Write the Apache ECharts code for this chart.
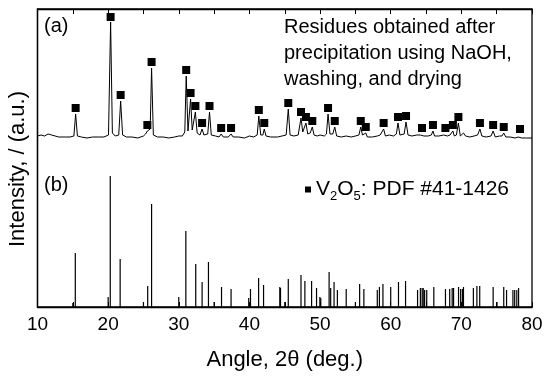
<!DOCTYPE html>
<html>
<head>
<meta charset="utf-8">
<script src="https://cdn.jsdelivr.net/npm/echarts@6/dist/echarts.min.js"></script>
<style>html,body{margin:0;padding:0;background:#fff}#c{width:550px;height:385px}</style>
</head>
<body>
<div id="c"></div>
<script>
// ---- data ----
var xTicks = [10, 20, 30, 40, 50, 60, 70, 80];
// (a) measured pattern, [2theta, intensity] (arbitrary units, offset above panel b)
var tracePoints = [
 [10.0,171],[10.5,172],[11.0,171],[11.5,173],[12.0,172],[12.5,171],[13.0,170],[13.5,170],[14.0,170],[14.6,170],
 [15.15,171],[15.4,193],[15.65,171],[16.2,170],[17.0,169],[17.8,170],[18.6,170],[19.4,170],[20.05,172],[20.35,285],
 [20.6,174],[21.0,171],[21.5,172],[21.77,206],[22.05,172],[22.6,170],[23.4,170],[24.2,169],[25.0,171],[25.3,173],
 [25.55,176],[25.8,175],[25.95,178],[26.15,239],[26.4,172],[27.0,170],[27.8,170],[28.6,169],[29.4,170],[30.0,171],
 [30.5,171],[30.85,175],[31.05,231],[31.3,176],[31.5,178],[31.67,208],[31.9,177],[32.15,177],[32.35,195],[32.6,174],
 [33.0,172],[33.3,178],[33.55,172],[34.1,173],[34.35,195],[34.6,172],[35.2,171],[35.7,170],[36.0,173],[36.3,170],
 [37.0,170],[37.4,173],[37.7,170],[38.5,170],[39.3,169],[40.0,171],[40.6,170],[41.1,172],[41.33,191],[41.6,172],
 [41.9,172],[42.1,178],[42.35,171],[43.0,170],[44.0,170],[44.6,171],[45.2,172],[45.5,198],[45.75,172],[46.3,171],
 [46.9,172],[47.1,174],[47.3,189],[47.55,175],[47.8,176],[48.0,184],[48.25,173],[48.6,174],[48.9,180],[49.15,172],
 [49.6,171],[50.0,172],[50.6,171],[50.9,173],[51.13,193],[51.4,173],[51.8,173],[52.08,180],[52.35,171],[53.0,170],
 [53.7,171],[54.4,170],[55.0,171],[55.5,172],[55.76,180],[56.0,172],[56.25,172],[56.47,174],[56.7,170],[57.4,170],
 [58.1,171],[58.5,172],[58.75,172],[59.0,178],[59.25,171],[59.8,172],[60.4,171],[60.8,173],[61.03,184],[61.3,172],
 [61.9,173],[62.17,185],[62.45,172],[63.0,171],[63.7,172],[64.2,172],[64.43,174],[64.7,171],[65.3,171],[65.75,172],
 [65.98,176],[66.2,171],[66.8,171],[67.5,172],[67.74,174],[68.0,171],[68.4,172],[68.8,176],[69.0,171],[69.3,172],
 [69.58,184],[69.85,171],[70.1,172],[70.3,174],[70.6,171],[71.2,170],[71.8,171],[72.3,172],[72.63,178],[72.9,171],
 [73.5,170],[74.2,171],[74.5,176],[74.8,170],[75.4,171],[75.75,171],[76.0,174],[76.3,170],[76.9,170],[77.6,169],
 [78.05,170],[78.3,172],[78.55,169],[79.2,169],[80.0,169]
];
// V2O5 peak markers on pattern (a)
var markerX = [15.4,20.35,21.77,25.55,26.15,31.05,31.67,32.35,33.3,34.35,36.0,37.4,41.33,42.1,45.5,47.3,48.0,48.9,
 51.13,52.08,55.76,56.47,59.0,61.03,62.17,64.43,65.98,67.74,68.8,69.58,72.63,74.5,76.0,78.3];
var markerY = [199,290,212,182,245,237,214,201,184,201,179,179,197,184,204,195,190,186,
 199,186,186,180,184,190,191,179,182,179,182,190,184,182,180,178];
// (b) reference stick pattern PDF #41-1426
var stickX = [15.0,15.35,20.0,20.3,21.7,25.0,25.6,26.15,30.0,31.0,32.4,33.3,34.2,35.0,36.05,37.4,39.9,40.15,41.3,42.0,
 44.3,44.4,45.0,45.5,47.3,47.85,48.8,49.5,49.97,50.1,51.28,51.5,51.98,52.45,53.7,55.0,55.6,56.2,58.1,58.4,58.9,60.0,
 61.1,62.1,63.8,64.2,64.45,64.6,64.8,65.1,66.1,67.75,68.35,68.7,68.9,69.6,69.9,70.15,70.3,71.7,72.2,72.6,74.5,75.05,
 76.0,76.4,77.3,77.55,77.85,78.1];
var stickH = [4,54,10,131,48,5,21,103,10,76,43,25,45,5,20,18,9,18,29,22,
 20,19,5,28,32,26,26,19,10,9,35,19,25,17,18,5,23,18,17,20,23,20,
 25,26,17,19,19,19,17,17,20,18,18,19,19,20,18,18,20,19,21,21,20,5,
 20,17,17,17,17,19];
var panelLabels = ['(a)', '(b)'];
var noteLines = ['Residues obtained after', 'precipitation using NaOH,', 'washing, and drying'];
var legendName = 'V2O5';
var xName = 'Angle, 2\u03b8 (deg.)';
var yName = 'Intensity, / (a.u.)';

// ---- chart ----
var FONT = '"Liberation Sans", Arial, sans-serif';
var chart = echarts.init(document.getElementById('c'), null, {renderer: 'canvas'});
var sticks = stickX.map(function (x, i) { return [x, stickH[i]]; });
var markers = markerX.map(function (x, i) { return [x, markerY[i]]; });

var axisCommon = {
  type: 'value', min: 10, max: 80, interval: 10,
  axisLine: {show: true, lineStyle: {color: '#000', width: 1.3}},
  axisTick: {show: true, inside: true, length: 5, lineStyle: {color: '#000', width: 1}},
  minorTick: {show: true, splitNumber: 2, length: 5, lineStyle: {color: '#000', width: 1}},
  splitLine: {show: false}
};

chart.setOption({
  animation: false,
  backgroundColor: '#fff',
  grid: {left: 37.5, right: 18, top: 9, bottom: 78, show: true, borderColor: '#000', borderWidth: 1.3},
  xAxis: [
    Object.assign({}, axisCommon, {
      position: 'bottom',
      axisLabel: {show: true, color: '#000', fontSize: 19, fontFamily: FONT, margin: 8},
      name: xName, nameLocation: 'middle', nameGap: 42,
      nameTextStyle: {color: '#000', fontSize: 22, fontFamily: FONT}
    }),
    Object.assign({}, axisCommon, {position: 'top', axisLabel: {show: false}})
  ],
  yAxis: {
    type: 'value', min: 0, max: 298,
    axisLine: {show: true, lineStyle: {color: '#000', width: 1.3}},
    axisTick: {show: false}, axisLabel: {show: false}, splitLine: {show: false}
  },
  legend: {
    data: [{name: legendName, icon: 'rect'}],
    left: 300, top: 174, itemWidth: 6, itemHeight: 6, itemGap: 5,
    selectedMode: false,
    formatter: function () { return '{n|V}{s|2}{n|O}{s|5}{n|: PDF #41-1426}'; },
    textStyle: {
      color: '#000', fontFamily: FONT, padding: [0, 0, 0, 0],
      rich: {
        n: {fontSize: 21, fontFamily: FONT, color: '#000', lineHeight: 26, verticalAlign: 'middle'},
        s: {fontSize: 13, fontFamily: FONT, color: '#000', lineHeight: 26, verticalAlign: 'bottom', padding: [10, 0, 0, 0]}
      }
    }
  },
  series: [
    {
      type: 'line', name: 'pattern', data: tracePoints, showSymbol: false, symbol: 'none',
      lineStyle: {color: '#000', width: 1}, silent: true, z: 2
    },
    {
      type: 'scatter', name: legendName, data: markers, symbol: 'rect', symbolSize: 8,
      itemStyle: {color: '#000', opacity: 1}, silent: true, z: 3
    },
    {
      type: 'custom', name: 'sticks', data: sticks, silent: true, z: 2,
      renderItem: function (params, api) {
        var p0 = api.coord([api.value(0), 0]);
        var p1 = api.coord([api.value(0), api.value(1)]);
        return {type: 'line', shape: {x1: p0[0], y1: p0[1], x2: p1[0], y2: p1[1]},
                style: {stroke: '#000', lineWidth: 1.2}};
      }
    }
  ],
  graphic: [
    {type: 'text', left: 44, top: 16, style: {text: panelLabels[0], font: '20px ' + FONT, fill: '#000'}},
    {type: 'text', left: 44, top: 175, style: {text: panelLabels[1], font: '20px ' + FONT, fill: '#000'}},
    {type: 'text', left: 284, top: 14, style: {text: noteLines.join('\n'), font: '20px ' + FONT, fill: '#000', lineHeight: 26}},
    {type: 'text', x: 18, y: 169, rotation: Math.PI / 2,
     style: {text: yName, font: '22px ' + FONT, fill: '#000', textAlign: 'center', textVerticalAlign: 'middle'}}
  ]
});
</script>
</body>
</html>
